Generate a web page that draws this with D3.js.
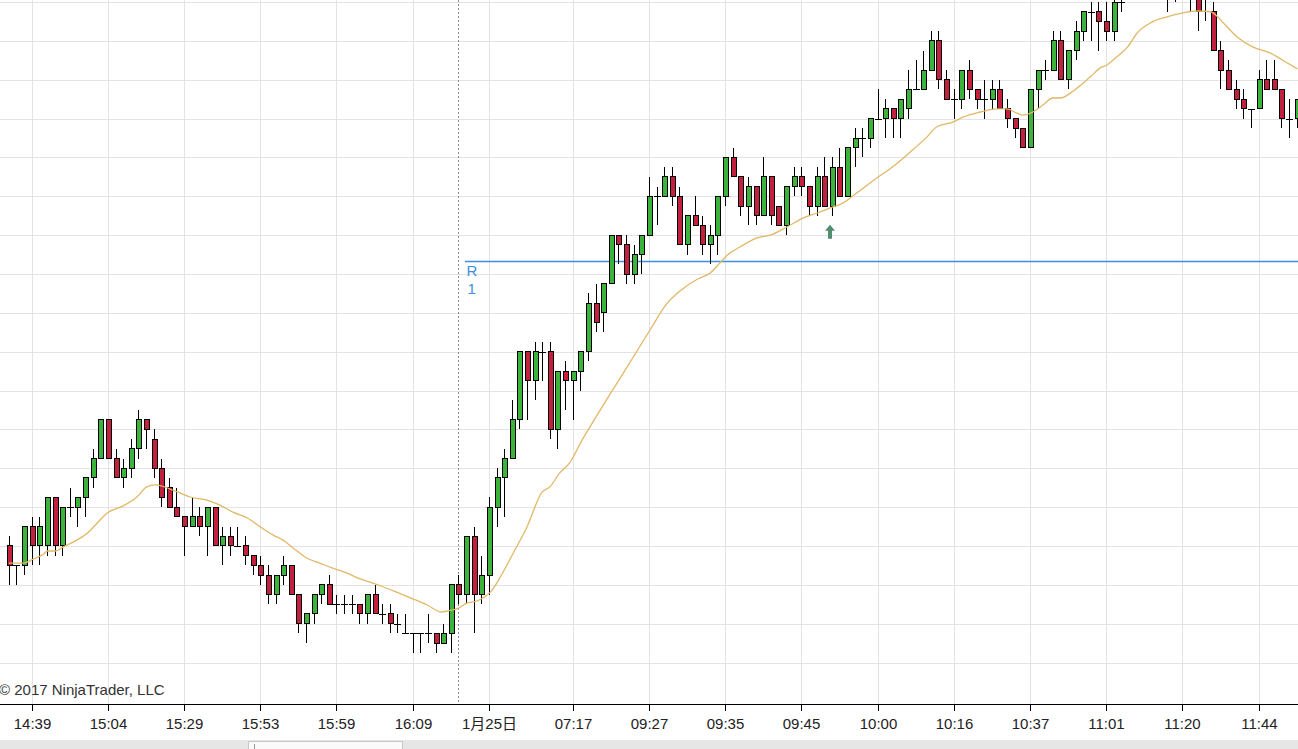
<!DOCTYPE html>
<html>
<head>
<meta charset="utf-8">
<script src="https://cdn.jsdelivr.net/npm/d3@7/dist/d3.min.js"></script>
<style>
  html, body { margin: 0; padding: 0; background: #fff; overflow: hidden; }
  svg { display: block; font-family: "Liberation Sans", Arial, "Noto Sans CJK JP", sans-serif; }
</style>
</head>
<body>
<svg width="1298" height="749"></svg>
<script>
// --- Data: OHLC per bar (bar index = position in array) ---
const opens = [
  2273, 2272.5, 2272.5, 2273.5, 2273, 2273, 2274.25, 2273, 2274, 2274,
  2274.25, 2274.75, 2275.25, 2276.25, 2275.25, 2274.75, 2275, 2275.5, 2276.25, 2275.75,
  2275, 2274.5, 2274, 2273.75, 2273.5, 2273.75, 2273.5, 2274, 2273, 2273.25,
  2273, 2273, 2272.75, 2272.5, 2272.25, 2271.75, 2272.25, 2272.5, 2271.75, 2271,
  2271.25, 2271.75, 2272, 2271.5, 2271.5, 2271.5, 2271.5, 2271.25, 2271.75, 2271.25,
  2271.25, 2271, 2270.75, 2270.75, 2270.75, 2270.75, 2270.75, 2270.5, 2270.75, 2272,
  2271.75, 2273.25, 2271.75, 2272.25, 2274, 2274.75, 2275.25, 2276.25, 2278, 2277.25,
  2278, 2278, 2276, 2277.5, 2277.25, 2277.5, 2278, 2279.25, 2279, 2279.75,
  2281, 2280.75, 2280, 2280.5, 2281, 2282, 2282, 2282.5, 2282, 2280.75,
  2281.5, 2281.25, 2280.75, 2281, 2282, 2283, 2282.5, 2281.75, 2282.25, 2281.5,
  2282.5, 2281.75, 2281.25, 2282.25, 2282.5, 2282.25, 2281.75, 2282.5, 2281.75, 2282.75,
  2282, 2283.25, 2283.5, 2283.5, 2284, 2284, 2284.25, 2284, 2284.25, 2284.75,
  2284.75, 2285.25, 2286, 2285, 2284.5, 2284.5, 2285.25, 2284.75, 2284.5, 2284.5,
  2284.75, 2284.25, 2284, 2283.75, 2283.25, 2284.75, 2285.25, 2285.25, 2286, 2285,
  2285.75, 2286.25, 2286.75, 2286.75, 2286.5, 2286.25, 2287, 2287.25, 2287.75, 2288,
  2287.75, 2288, 2287.75, 2287.5, 2287.75, 2287.75, 2287.5, 2287.25, 2286.75, 2285.75,
  2285.25, 2284.75, 2284.5, 2284.25, 2284.25, 2285, 2285, 2284.75, 2284, 2284
];
const highs = [
  2273.25, 2272.5, 2273.5, 2273.75, 2273.75, 2274.25, 2274.25, 2274, 2274.5, 2274.25,
  2274.75, 2275.5, 2276.25, 2276.25, 2275.5, 2275.25, 2275.75, 2276.5, 2276.25, 2276,
  2275.25, 2274.75, 2274.5, 2273.75, 2274.25, 2274, 2274, 2274, 2273.5, 2273.5,
  2273.5, 2273.25, 2272.75, 2272.75, 2272.5, 2272.25, 2272.75, 2272.5, 2271.75, 2271.25,
  2271.75, 2272, 2272.25, 2271.75, 2271.75, 2271.75, 2271.5, 2271.75, 2272, 2271.5,
  2271.5, 2271.25, 2271.25, 2270.75, 2270.75, 2271.25, 2270.75, 2271, 2272, 2272.25,
  2273.25, 2273.5, 2272.75, 2274.25, 2275, 2275.5, 2276.75, 2278, 2278, 2278.25,
  2278.25, 2278.25, 2277.5, 2277.75, 2277.5, 2278, 2279.5, 2279.75, 2279.75, 2281,
  2281, 2281, 2280.75, 2281, 2282.5, 2282.25, 2282.75, 2282.75, 2282.25, 2281.5,
  2282, 2281.5, 2281.25, 2282, 2283, 2283.25, 2282.5, 2282.5, 2282.25, 2283,
  2282.5, 2281.75, 2282.25, 2282.75, 2282.75, 2282.25, 2282.75, 2283, 2283, 2283.25,
  2283.25, 2283.75, 2283.75, 2284, 2284.75, 2284.5, 2284.25, 2284.5, 2285.25, 2285.5,
  2285.75, 2286.25, 2286.25, 2285.25, 2284.75, 2285.25, 2285.5, 2284.75, 2285, 2285,
  2285, 2284.5, 2284, 2283.75, 2284.75, 2285.25, 2285.5, 2286.25, 2286.25, 2285.75,
  2286.5, 2286.75, 2287, 2287, 2287, 2287.25, 2287.25, 2288, 2288.25, 2288.25,
  2288.25, 2288, 2288, 2288, 2288, 2287.75, 2287.5, 2287.75, 2287, 2286,
  2285.5, 2285, 2284.75, 2284.25, 2285.25, 2285.5, 2285.5, 2284.75, 2284.5, 2284.5
];
const lows = [
  2272, 2272, 2272.25, 2272.5, 2272.5, 2272.75, 2272.75, 2272.75, 2273.75, 2273.5,
  2273.75, 2274.5, 2275.25, 2275.25, 2274.75, 2274.5, 2274.75, 2275.25, 2275.5, 2274.75,
  2274, 2274, 2273.75, 2272.75, 2273.5, 2273.25, 2272.75, 2273, 2272.5, 2272.75,
  2273, 2272.5, 2272.25, 2272, 2271.5, 2271.5, 2272, 2271.75, 2270.75, 2270.5,
  2271, 2271.5, 2271.5, 2271.25, 2271.25, 2271.25, 2271, 2271, 2271.25, 2271,
  2270.75, 2270.75, 2270.75, 2270.25, 2270.25, 2270.5, 2270.25, 2270.5, 2270.25, 2271.5,
  2271.5, 2270.75, 2271.5, 2271.75, 2273.5, 2273.75, 2275.25, 2276, 2276.25, 2276.75,
  2277.25, 2275.75, 2275.5, 2276.5, 2276.25, 2277, 2277.75, 2278.5, 2278.5, 2279.75,
  2280.25, 2279.75, 2279.75, 2280, 2281, 2281.25, 2282, 2281.75, 2280.75, 2280.5,
  2281.25, 2280.5, 2280.25, 2280.5, 2281.75, 2282.5, 2281.5, 2281.25, 2281.25, 2281.5,
  2281.25, 2281.25, 2281, 2282, 2282, 2281.5, 2281.5, 2281.75, 2281.5, 2282,
  2282, 2282.75, 2283, 2283.25, 2284, 2283.5, 2283.5, 2283.5, 2284, 2284.75,
  2284.75, 2285.25, 2284.75, 2284.5, 2284, 2284.25, 2284.5, 2284.25, 2284, 2284.25,
  2284.25, 2283.75, 2283.5, 2283.25, 2283.25, 2284.25, 2285, 2285.25, 2285, 2284.75,
  2285.5, 2286, 2286, 2285.75, 2286, 2286, 2286.75, 2287.25, 2287.5, 2287.5,
  2287.5, 2287.25, 2286.75, 2287, 2287.5, 2286.75, 2286.25, 2286.5, 2285.75, 2284.75,
  2284.75, 2284.25, 2284, 2283.75, 2284.25, 2284.75, 2284.75, 2283.75, 2283.5, 2283.75
];
const closes = [
  2272.5, 2272.5, 2273.5, 2273, 2273.5, 2274.25, 2273, 2274, 2274, 2274.25,
  2274.75, 2275.25, 2276.25, 2275.25, 2274.75, 2275, 2275.5, 2276.25, 2276, 2275,
  2274.25, 2274, 2273.75, 2273.5, 2273.75, 2273.5, 2274, 2273, 2273.25, 2273,
  2273, 2272.75, 2272.5, 2272.25, 2271.75, 2272.25, 2272.5, 2271.75, 2271, 2271.25,
  2271.75, 2272, 2271.5, 2271.5, 2271.5, 2271.5, 2271.25, 2271.75, 2271.25, 2271.25,
  2271, 2271, 2270.75, 2270.75, 2270.75, 2270.75, 2270.5, 2270.75, 2272, 2271.75,
  2273.25, 2271.75, 2272.25, 2274, 2274.75, 2275.25, 2276.25, 2278, 2277.25, 2278,
  2278, 2276, 2277.5, 2277.25, 2277.5, 2278, 2279.25, 2278.75, 2279.75, 2281,
  2280.75, 2280, 2280.5, 2281, 2282, 2282, 2282.5, 2282, 2280.75, 2281.5,
  2281.25, 2280.75, 2281, 2282, 2283, 2282.5, 2281.75, 2282.25, 2281.5, 2282.5,
  2281.5, 2281.25, 2282.25, 2282.5, 2282.25, 2281.75, 2282.5, 2281.75, 2282.75, 2282,
  2283.25, 2283.5, 2283.5, 2284, 2284, 2284.25, 2284, 2284.5, 2284.75, 2284.75,
  2285.25, 2286, 2285, 2284.5, 2284.5, 2285.25, 2284.75, 2284.5, 2284.5, 2284.75,
  2284.25, 2284, 2283.75, 2283.25, 2284.75, 2285.25, 2285.25, 2286, 2285, 2285.75,
  2286.25, 2286.75, 2286.75, 2286.5, 2286.25, 2287, 2287, 2287.75, 2288, 2287.75,
  2288, 2287.75, 2287.5, 2287.75, 2287.75, 2287.5, 2286.75, 2287.5, 2285.75, 2285.25,
  2284.75, 2284.5, 2284.25, 2284.25, 2285, 2284.75, 2284.75, 2284, 2284, 2284.5
];

// --- Moving average (bar position, price) ---
const maPos = [
  0, 1.9, 3.2, 4.4, 5.1, 6.1, 7.1, 8.9, 10.3, 11.6, 12.9, 15.0, 16.8, 18.1, 19.2,
  22.1, 23.8, 26.0, 27.7, 29.4, 31.3, 33.0, 34.7, 36.0, 37.3, 39.1, 40.8, 42.5, 44.4, 46.1,
  47.4, 49.1, 50.9, 53.0, 54.9, 56.8, 57.6, 59.0, 60.1, 61.4, 62.2, 63.2, 64.5, 66.2, 68.0,
  70.0, 71.0, 72.3, 73.6, 75.1, 76.9, 79.0, 80.9, 82.6, 84.3, 86.2, 88.2, 90.4, 92.0, 93.3,
  94.3, 96.0, 98.2, 99.9, 102.1, 104.2, 106.1, 107.8, 109.5, 111.3, 113.9, 116.0, 118.3, 120.5,
  121.8, 123.9, 125.2, 127.5, 129.7, 131.0, 132.3, 133.1, 134.4, 135.7, 137.0, 138.0, 139.7,
  141.9, 143.2, 144.1, 145.4, 146.8, 148.1, 149.8, 152.0, 154.1, 155.9, 157.7, 159.4, 161.2,
  163.3, 165.5, 167.8, 169.1
];
const maVal = [
  2272.56, 2272.56, 2272.66, 2272.77, 2272.87, 2272.87, 2272.97, 2273.15, 2273.33, 2273.59,
  2273.85, 2274.03, 2274.26, 2274.52, 2274.57,
  2274.39, 2274.26, 2274.18, 2274.05, 2273.87, 2273.72, 2273.49, 2273.28, 2273.15, 2272.95,
  2272.69, 2272.56, 2272.43, 2272.30, 2272.15,
  2272.07, 2271.95, 2271.81, 2271.64, 2271.48, 2271.30, 2271.33, 2271.40, 2271.53, 2271.58,
  2271.66, 2271.81, 2272.20, 2272.82, 2273.49,
  2274.39, 2274.52, 2274.88, 2275.14, 2275.68, 2276.27, 2276.94, 2277.53, 2278.07, 2278.61,
  2279.20, 2279.58, 2279.87, 2280.02, 2280.28,
  2280.49, 2280.70, 2280.93, 2281.00, 2281.21, 2281.44, 2281.57, 2281.70, 2281.83, 2282.09,
  2282.47, 2282.76, 2283.14, 2283.53,
  2283.79, 2283.91, 2284.04, 2284.17, 2284.25, 2284.25, 2284.14, 2284.09, 2284.17, 2284.35,
  2284.53, 2284.53, 2284.71,
  2285.07, 2285.30, 2285.38, 2285.59, 2285.84, 2286.21, 2286.46, 2286.62, 2286.72, 2286.77,
  2286.75, 2286.46, 2286.10,
  2285.84, 2285.69, 2285.43, 2285.28
];

// --- Time axis labels (bar index, text) ---
const labelBars = [3, 13, 23, 33, 43, 53, 63, 74, 84, 94, 104, 114, 124, 134, 144, 154, 164];
const labelText = ['14:39', '15:04', '15:29', '15:53', '15:59', '16:09', '1月25日', '07:17', '09:27',
  '09:35', '09:45', '10:00', '10:16', '10:37', '11:01', '11:20', '11:44'];

const sessionBreakBar = 58.95;
const r1Level = 2280.33;
const r1StartBar = 60;
const signalBars = [108];
const priceGrid = d3.range(2270, 2288, 1);

const svg = d3.select('svg');
const width = +svg.attr('width');
const height = +svg.attr('height');
const axisY = 704.5;

const x = d3.scaleLinear().domain([3, 164]).range([31.7, 1258.5]);
const y = d3.scaleLinear().domain([2270, 2287]).range([662.5, 2.05]);

// --- Clip for plot area ---
svg.append('defs').append('clipPath').attr('id', 'plot')
  .append('rect').attr('x', 0).attr('y', 0).attr('width', width).attr('height', axisY);

// --- Grid ---
const grid = svg.append('g').attr('shape-rendering', 'crispEdges');
grid.selectAll('line.h').data(priceGrid).join('line')
  .attr('class', 'h')
  .attr('x1', 0).attr('x2', width)
  .attr('y1', d => Math.round(y(d)) + 0.5).attr('y2', d => Math.round(y(d)) + 0.5)
  .attr('stroke', '#e3e3e3');
grid.selectAll('line.v').data(labelBars).join('line')
  .attr('class', 'v')
  .attr('x1', d => Math.round(x(d)) + 0.5).attr('x2', d => Math.round(x(d)) + 0.5)
  .attr('y1', 0).attr('y2', axisY)
  .attr('stroke', '#e3e3e3');

// --- Session break ---
svg.append('line')
  .attr('x1', Math.round(x(sessionBreakBar)) + 0.5).attr('x2', Math.round(x(sessionBreakBar)) + 0.5)
  .attr('y1', 0).attr('y2', axisY)
  .attr('stroke', '#8a8a8a').attr('stroke-dasharray', '2,2');

// --- R1 pivot (thin filled strip so the blue holds) ---
const r1y = Math.round(y(r1Level));
svg.append('rect')
  .attr('x', Math.round(x(r1StartBar)) - 1)
  .attr('y', r1y - 0.25)
  .attr('width', width)
  .attr('height', 1.5)
  .attr('fill', '#3a8ee6');
const r1Label = svg.append('text')
  .attr('fill', '#3d8fe0')
  .style('font-size', '15px');
r1Label.append('tspan').attr('x', Math.round(x(r1StartBar)) + 0.5).attr('y', r1y + 15).text('R');
r1Label.append('tspan').attr('x', Math.round(x(r1StartBar)) + 1.5).attr('y', r1y + 33).text('1');

// --- Candles ---
const bars = d3.range(opens.length).map(i => ({
  i, o: opens[i], h: highs[i], l: lows[i], c: closes[i]
}));
const plot = svg.append('g').attr('clip-path', 'url(#plot)');
const candle = plot.selectAll('g.bar').data(bars).join('g')
  .attr('class', 'bar')
  .attr('shape-rendering', 'crispEdges');
candle.append('line')
  .attr('x1', d => Math.round(x(d.i)) + 0.5).attr('x2', d => Math.round(x(d.i)) + 0.5)
  .attr('y1', d => y(d.h)).attr('y2', d => y(d.l))
  .attr('stroke', '#000');
candle.filter(d => d.o !== d.c).append('rect')
  .attr('x', d => Math.round(x(d.i)) - 2)
  .attr('width', 5)
  .attr('y', d => y(Math.max(d.o, d.c)))
  .attr('height', d => Math.abs(y(d.o) - y(d.c)))
  .attr('fill', d => d.c > d.o ? '#3cb43c' : '#c2203f')
  .attr('stroke', '#000');
candle.filter(d => d.o === d.c).append('line')
  .attr('x1', d => Math.round(x(d.i)) - 3).attr('x2', d => Math.round(x(d.i)) + 4)
  .attr('y1', d => Math.round(y(d.o)) + 0.5).attr('y2', d => Math.round(y(d.o)) + 0.5)
  .attr('stroke', '#000');

// --- Moving average ---
const maLine = d3.line()
  .x(d => x(d[0]))
  .y(d => y(d[1]))
  .curve(d3.curveMonotoneX);
plot.append('path')
  .datum(maPos.map((p, k) => [p, maVal[k]]))
  .attr('d', maLine)
  .attr('fill', 'none')
  .attr('stroke', '#e1b866')
  .attr('stroke-width', 1.3);

// --- Signal arrow ---
signalBars.forEach(i => {
  const ax = Math.round(x(i)) - 2;
  const ay = y(lows[i]) + 9;
  svg.append('path')
    .attr('d', `M${ax},${ay} L${ax + 5},${ay + 6} L${ax + 2},${ay + 6} L${ax + 2},${ay + 14} L${ax - 2},${ay + 14} L${ax - 2},${ay + 6} L${ax - 5},${ay + 6} Z`)
    .attr('fill', '#4f8f70');
});

// --- Copyright ---
svg.append('text')
  .attr('x', -1).attr('y', 695)
  .attr('fill', '#333')
  .style('font-size', '15px')
  .text('© 2017 NinjaTrader, LLC');

// --- Time axis ---
svg.append('line')
  .attr('x1', 0).attr('x2', width)
  .attr('y1', axisY).attr('y2', axisY)
  .attr('stroke', '#000').attr('shape-rendering', 'crispEdges');
const xAxis = d3.axisBottom(x)
  .tickValues(labelBars)
  .tickFormat((d, k) => labelText[k])
  .tickSize(6)
  .tickPadding(8);
const ax = svg.append('g').attr('transform', `translate(0.5,${axisY})`).call(xAxis);
ax.select('.domain').remove();
ax.selectAll('.tick').attr('transform', d => `translate(${Math.round(x(d))},0)`);
ax.selectAll('.tick line').attr('stroke', '#000').attr('shape-rendering', 'crispEdges');
ax.selectAll('.tick text')
  .attr('fill', '#222')
  .style('font-size', '15px')
  .style('font-family', '"Liberation Sans", Arial, "Noto Sans CJK JP", sans-serif');

// --- Scrollbar strip ---
svg.append('rect')
  .attr('x', 0).attr('y', 740).attr('width', width).attr('height', 9)
  .attr('fill', '#e6e6e6');
svg.append('rect')
  .attr('x', 248.5).attr('y', 741.5).attr('width', 154).attr('height', 9)
  .attr('fill', '#fafafa').attr('stroke', '#c8c8c8');
svg.append('line')
  .attr('x1', 254.5).attr('x2', 254.5).attr('y1', 744).attr('y2', 749)
  .attr('stroke', '#999');
</script>
</body>
</html>
